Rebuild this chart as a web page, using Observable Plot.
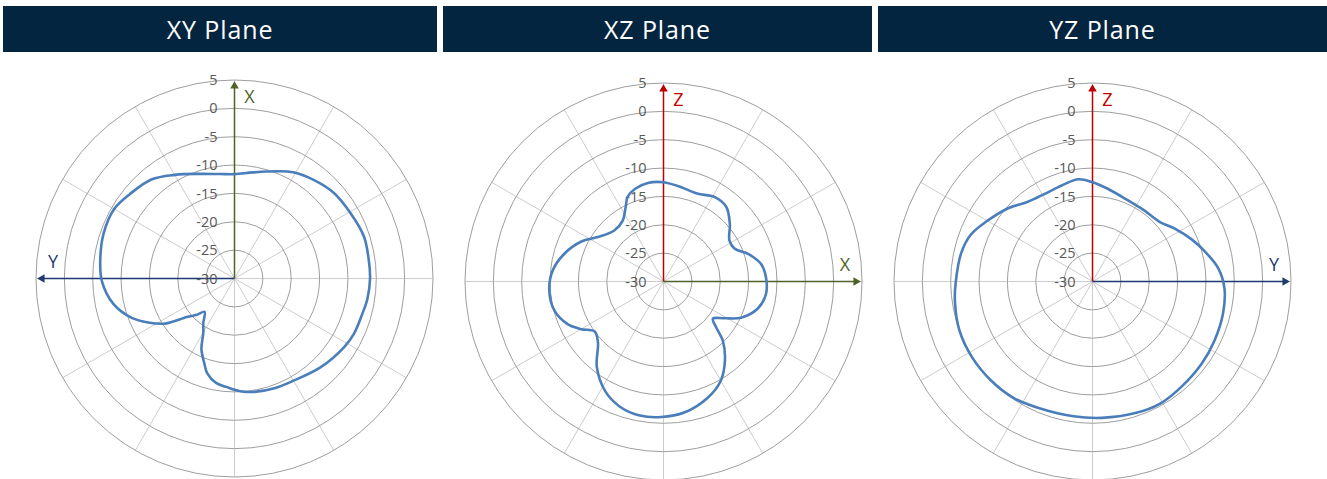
<!DOCTYPE html>
<html>
<head>
<meta charset="utf-8">
<script src="https://cdn.jsdelivr.net/npm/d3@7"></script>
<script src="https://cdn.jsdelivr.net/npm/@observablehq/plot@0.6"></script>
<style>
  html, body { margin: 0; padding: 0; background: #fff; }
  #root { position: relative; width: 1327px; height: 479px; overflow: hidden; background: #fff; }
  .bar { position: absolute; top: 6px; height: 46px; background: #03253f; color: #fff;
         font-family: "Open Sans", sans-serif; font-size: 25px; letter-spacing: 0.9px;
         display: flex; align-items: center; justify-content: center; }
  .panel { position: absolute; }
</style>
</head>
<body>
<div id="root"></div>
<script>
// ---- data ----
const titles = ["XY Plane", "XZ Plane", "YZ Plane"];
const ringTicks = [5, 0, -5, -10, -15, -20, -25, -30];
const spokeAngles = [0, 30, 60, 90, 120, 150, 180, 210, 240, 270, 300, 330];

// angles in degrees, clockwise from the top; values in dB
const xyAngles = [0, 10, 22, 29, 39, 49, 61, 72, 82, 90, 99, 105, 115, 122, 136, 150, 160, 170, 177, 184, 190, 196, 200, 205, 210, 215, 222, 226, 231, 237, 243, 249, 258, 269, 278, 289, 300, 309, 320, 330, 342, 352];
const xyDb     = [-11.6, -11.0, -9.6, -8.6, -7.7, -6.9, -6.5, -6.0, -6.1, -6.1, -6.3, -6.6, -6.8, -7.2, -8.2, -9.2, -9.4, -9.7, -10.1, -10.8, -11.3, -12.6, -14.3, -16.2, -19.0, -20.4, -22.1, -20.8, -19.2, -15.4, -12.9, -10.6, -8.2, -6.6, -6.1, -5.6, -5.5, -6.3, -7.2, -8.9, -10.6, -11.4];

const xzAngles = [0, 11, 21, 31, 40, 49, 58, 65, 72, 80, 88, 97, 106, 115, 121, 127, 131, 135, 142, 150, 159, 171, 181, 190, 199, 208, 218, 227, 234, 240, 246, 255, 266, 276, 286, 296, 304, 316, 326, 333, 337, 343, 351];
const xzDb     = [-12.5, -13.1, -13.4, -12.6, -12.8, -14.5, -16.3, -16.2, -14.3, -12.5, -11.9, -11.8, -12.7, -14.9, -17.4, -19.1, -17.7, -15.2, -12.4, -9.8, -8.1, -6.6, -6.1, -6.0, -6.6, -8.1, -10.9, -14.2, -15.0, -13.2, -11.5, -10.1, -9.8, -10.4, -11.9, -13.9, -16.0, -17.5, -17.1, -15.3, -13.8, -12.9, -12.4];

const yzAngles = [0, 9, 24, 36, 48, 57, 67, 75, 84, 93, 104, 116, 127, 140, 151, 162, 176, 188, 202, 214, 226, 238, 250, 262, 270, 282, 291, 300, 311, 321, 331, 340, 352];
const yzDb     = [-12.5, -13.4, -14.4, -14.5, -14.2, -12.8, -11.0, -9.5, -7.7, -6.7, -6.3, -6.1, -5.9, -5.7, -5.4, -5.6, -5.9, -6.0, -5.8, -5.2, -5.0, -4.9, -5.0, -5.5, -5.9, -6.3, -7.0, -8.6, -10.3, -11.9, -12.4, -12.3, -11.8];

// ---- layout / style ----
const MIN = -30, MAX = 5, SPAN = MAX - MIN;
const R_PX = 198.5;
const W = 420, H = 420;
const FONT = "Open Sans, sans-serif";
const GREEN = "#4f6228", RED = "#c00000", NAVY = "#1f3a6e";
const panels = [
  {title: titles[0], bar: [3, 434], cx: 233.5, cy: 278.3, angles: xyAngles, db: xyDb,
   v: {label: "X", color: GREEN}, h: {label: "Y", color: NAVY, dir: -1}},
  {title: titles[1], bar: [443, 429], cx: 662.7, cy: 281.3, angles: xzAngles, db: xzDb,
   v: {label: "Z", color: RED}, h: {label: "X", color: GREEN, dir: 1}},
  {title: titles[2], bar: [878, 449], cx: 1091.7, cy: 281.3, angles: yzAngles, db: yzDb,
   v: {label: "Z", color: RED}, h: {label: "Y", color: NAVY, dir: 1}}
];

const rad = a => a * Math.PI / 180;
const root = document.getElementById("root");

for (const p of panels) {
  const bar = document.createElement("div");
  bar.className = "bar";
  bar.style.left = p.bar[0] + "px";
  bar.style.width = p.bar[1] + "px";
  bar.textContent = p.title;
  root.appendChild(bar);

  const k = R_PX / SPAN;
  const half = W / 2 / k, halfY = H / 2 / k;
  const arrowLen = 34.7;           // radial units
  const headBack = 4.4 / k;        // triangle centroid offset from tip
  const labelR = 32;

  const pts = p.angles.map((a, i) => ({a, v: p.db[i]}));
  const ringVals = ringTicks.filter(t => t > MIN);

  const chart = Plot.plot({
    width: W, height: H, margin: 0,
    x: {domain: [-half, half], axis: null},
    y: {domain: [-halfY, halfY], axis: null},
    r: {type: "linear", domain: [0, SPAN], range: [0, R_PX]},
    style: {background: "transparent", overflow: "visible"},
    marks: [
      Plot.link(spokeAngles, {x1: 0, y1: 0,
        x2: a => SPAN * Math.sin(rad(a)), y2: a => SPAN * Math.cos(rad(a)),
        stroke: "#cccccc", strokeWidth: 1}),
      Plot.dot(ringVals, {x: 0, y: 0, r: t => t - MIN, stroke: "#9e9e9e", fill: "none", strokeWidth: 1}),
      // vertical axis arrow
      Plot.link([p.v], {x1: 0, y1: 0, x2: 0, y2: arrowLen - headBack, stroke: d => d.color, strokeWidth: 1.5}),
      Plot.dot([p.v], {x: 0, y: arrowLen - headBack, symbol: "triangle", r: 3.2, fill: d => d.color, stroke: "none"}),
      // horizontal axis arrow
      Plot.link([p.h], {x1: 0, y1: 0, x2: d => d.dir * (arrowLen - headBack), y2: 0, stroke: d => d.color, strokeWidth: 1.5}),
      Plot.dot([p.h], {x: d => d.dir * (arrowLen - headBack), y: 0, symbol: "triangle", r: 3.2, rotate: p.h.dir * 90, fill: d => d.color, stroke: "none"}),
      // ring tick labels
      Plot.text(ringTicks, {x: 0, y: t => t - MIN, text: t => String(t), textAnchor: "end", dx: -17, dy: 0.5,
        fill: "#595959", fontSize: 14.5, fontFamily: FONT}),
      // axis letters
      Plot.text([p.v], {x: 0, y: labelR, dx: 15, text: d => d.label, fill: d => d.color, fontSize: 18, fontFamily: FONT}),
      Plot.text([p.h], {x: d => d.dir * labelR, y: 0, dy: -16, text: d => d.label, fill: d => d.color, fontSize: 18, fontFamily: FONT}),
      // pattern curve
      Plot.line(pts, {x: d => (d.v - MIN) * Math.sin(rad(d.a)), y: d => (d.v - MIN) * Math.cos(rad(d.a)),
        curve: "catmull-rom-closed", stroke: "#4a7ebb", strokeWidth: 2.6})
    ]
  });
  chart.classList.add("panel");
  chart.style.left = (p.cx - W / 2) + "px";
  chart.style.top = (p.cy - H / 2) + "px";
  root.appendChild(chart);
}
</script>
</body>
</html>
